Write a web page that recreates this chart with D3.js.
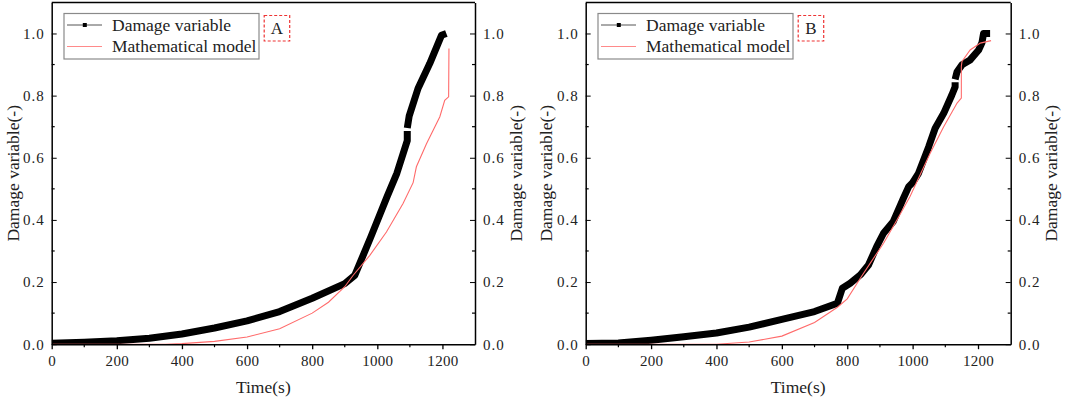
<!DOCTYPE html>
<html>
<head>
<meta charset="utf-8">
<script src="https://cdn.jsdelivr.net/npm/d3@7"></script>
<style>
  html, body { margin: 0; padding: 0; background: #fff; }
  svg { display: block; }
  text { font-family: "Liberation Serif", "Times New Roman", serif; fill: #222; }
</style>
</head>
<body>
<svg id="chart" width="1065" height="399"></svg>
<script>
// ---------- data ----------
const xTicks = [0, 200, 400, 600, 800, 1000, 1200];
const yTicks = [0, 0.2, 0.4, 0.6, 0.8, 1.0];
const xTitle = "Time(s)";
const yTitle = "Damage variable(-)";
const legendNames = ["Damage variable", "Mathematical model"];
const panelLabels = ["A", "B"];

// Panel A – damage variable (null = break in the marker chain)
const damageA_t = [0, 100, 200, 300, 400, 500, 600, 700, 800, 900, 931, 980, 1030, 1060, 1092, 1092, null, 1092, 1098, 1125, 1161, 1197, 1212];
const damageA_v = [0.003, 0.006, 0.011, 0.019, 0.033, 0.052, 0.075, 0.105, 0.148, 0.195, 0.222, 0.345, 0.475, 0.55, 0.655, 0.686, null, 0.696, 0.735, 0.823, 0.903, 0.994, 1.0];
// Panel A – mathematical model
const modelA_t = [0, 350, 400, 500, 600, 700, 800, 850, 900, 926, 977, 1028, 1079, 1110, 1120, 1151, 1192, 1207, 1219, 1220];
const modelA_v = [0, 0, 0.002, 0.009, 0.023, 0.05, 0.1, 0.135, 0.185, 0.222, 0.286, 0.361, 0.453, 0.52, 0.571, 0.645, 0.732, 0.785, 0.796, 0.952];

// Panel B – damage variable
const damageB_t = [0, 100, 200, 300, 400, 500, 600, 700, 770, 785, 809, 840, 865, 890, 911, 941, 972, 988, 1000, 1018, 1049, 1069, 1095, 1120, 1130, 1130, null, 1130, 1136, 1151, 1176, 1202, 1212, 1217, 1237];
const damageB_v = [0.002, 0.004, 0.013, 0.024, 0.036, 0.055, 0.08, 0.105, 0.132, 0.18, 0.196, 0.223, 0.255, 0.314, 0.357, 0.395, 0.47, 0.507, 0.52, 0.55, 0.635, 0.695, 0.743, 0.802, 0.828, 0.843, null, 0.852, 0.877, 0.899, 0.915, 0.947, 0.97, 1.0, 1.0];
// Panel B – mathematical model
const modelB_t = [0, 400, 500, 600, 700, 770, 800, 840, 870, 911, 952, 992, 1023, 1054, 1095, 1136, 1149, 1149, 1151, 1176, 1207, 1240];
const modelB_v = [0, 0, 0.007, 0.026, 0.07, 0.119, 0.146, 0.212, 0.26, 0.325, 0.40, 0.475, 0.545, 0.615, 0.70, 0.776, 0.792, 0.894, 0.91, 0.947, 0.969, 0.977];

// ---------- drawing ----------
const svg = d3.select("#chart");
const yTop = 2.4, yBot = 344.2;
const panels = [
  { x0: 51.7, x1: 475, label: panelLabels[0], dt: damageA_t, dv: damageA_v, mt: modelA_t, mv: modelA_v, leftTitleX: 13, rightTitleX: 516 },
  { x0: 585.7, x1: 1010.7, label: panelLabels[1], dt: damageB_t, dv: damageB_v, mt: modelB_t, mv: modelB_v, leftTitleX: 546, rightTitleX: 1051 }
];

const zip = (ts, vs) => ts.map((t, i) => (t === null ? null : [t, vs[i]]));
const fmt = d3.format(".1f");

panels.forEach(p => {
  const x = d3.scaleLinear([0, 1300], [p.x0, p.x1]);
  const y = d3.scaleLinear([0, 1.1], [yBot, yTop]);
  const g = svg.append("g");

  const cid = "clip" + p.label;
  svg.append("clipPath").attr("id", cid).append("rect")
    .attr("x", p.x0).attr("y", yTop).attr("width", p.x1 - p.x0).attr("height", yBot - yTop);

  const line = d3.line().defined(d => d !== null).x(d => x(d[0])).y(d => y(d[1]));

  // damage variable (thick marker chain)
  g.append("path").datum(zip(p.dt, p.dv))
    .attr("d", line).attr("fill", "none").attr("stroke", "#000")
    .attr("stroke-width", 7).attr("stroke-linejoin", "round").attr("stroke-linecap", "butt")
    .attr("clip-path", `url(#${cid})`);
  // model
  g.append("path").datum(zip(p.mt, p.mv))
    .attr("d", line).attr("fill", "none").attr("stroke", "#ff6b6b")
    .attr("stroke-width", 1.1).attr("clip-path", `url(#${cid})`);

  // bottom axis (outward ticks)
  const bx = g.append("g").attr("transform", `translate(0,${yBot})`)
    .call(d3.axisBottom(x).tickValues(xTicks).tickSize(5).tickSizeOuter(0).tickPadding(6).tickFormat(d3.format("d")));
  bx.selectAll("text").attr("font-size", 15).attr("fill", "#333").attr("letter-spacing", "0.3px");
  bx.select(".domain").attr("stroke-width", 1.5);
  bx.selectAll(".tick line").attr("stroke-width", 1.3);
  g.append("g").selectAll("line").data(d3.range(100, 1300, 200)).join("line")
    .attr("x1", d => x(d)).attr("x2", d => x(d)).attr("y1", yBot).attr("y2", yBot + 3)
    .attr("stroke", "#000").attr("stroke-width", 1.2);

  // left axis (inward ticks)
  const ly = g.append("g").attr("transform", `translate(${p.x0},0)`)
    .call(d3.axisLeft(y).tickValues(yTicks).tickSize(-5).tickSizeOuter(0).tickPadding(7).tickFormat(fmt));
  ly.selectAll("text").attr("font-size", 15).attr("fill", "#333").attr("letter-spacing", "1px");
  ly.select(".domain").attr("stroke-width", 1.5);
  // right axis
  const ry = g.append("g").attr("transform", `translate(${p.x1},0)`)
    .call(d3.axisRight(y).tickValues(yTicks).tickSize(-5).tickSizeOuter(0).tickPadding(8).tickFormat(fmt));
  ry.selectAll("text").attr("font-size", 15).attr("fill", "#333").attr("letter-spacing", "1px");
  ry.select(".domain").attr("stroke-width", 1.5);
  const minY = d3.range(0.1, 1.05, 0.2);
  g.append("g").selectAll("line").data(minY).join("line")
    .attr("x1", p.x0).attr("x2", p.x0 + 3).attr("y1", d => y(d)).attr("y2", d => y(d))
    .attr("stroke", "#000").attr("stroke-width", 1.2);
  g.append("g").selectAll("line").data(minY).join("line")
    .attr("x1", p.x1).attr("x2", p.x1 - 3).attr("y1", d => y(d)).attr("y2", d => y(d))
    .attr("stroke", "#000").attr("stroke-width", 1.2);
  g.append("line").attr("x1", p.x0).attr("x2", p.x1).attr("y1", yTop).attr("y2", yTop)
    .attr("stroke", "#000").attr("stroke-width", 1.5);

  // titles
  g.append("text").attr("x", (p.x0 + p.x1) / 2).attr("y", 393)
    .attr("text-anchor", "middle").attr("font-size", 17.5).text(xTitle);
  [p.leftTitleX, p.rightTitleX].forEach(tx => {
    g.append("text").attr("transform", `translate(${tx},${(yTop + yBot) / 2}) rotate(-90)`)
      .attr("text-anchor", "middle").attr("dy", "0.35em").attr("font-size", 17.5).text(yTitle);
  });

  // legend
  const lx = p.x0 + 12.3;
  g.append("rect").attr("x", lx).attr("y", 13.5).attr("width", 195).attr("height", 45.5)
    .attr("fill", "#fff").attr("stroke", "#8a8a8a").attr("stroke-width", 1.2);
  g.append("line").attr("x1", lx + 3).attr("x2", lx + 38).attr("y1", 25).attr("y2", 25)
    .attr("stroke", "#555").attr("stroke-width", 1);
  g.append("rect").attr("x", lx + 18.8).attr("y", 23).attr("width", 4).attr("height", 4).attr("fill", "#000");
  g.append("line").attr("x1", lx + 3).attr("x2", lx + 38).attr("y1", 46.5).attr("y2", 46.5)
    .attr("stroke", "#ff8a8a").attr("stroke-width", 1);
  g.append("text").attr("x", lx + 48).attr("y", 25).attr("dy", "0.33em").attr("font-size", 17.5).text(legendNames[0]);
  g.append("text").attr("x", lx + 48).attr("y", 46.5).attr("dy", "0.33em").attr("font-size", 17.5).text(legendNames[1]);

  // panel label box
  g.append("rect").attr("x", p.x0 + 212.5).attr("y", 15.5).attr("width", 25.5).attr("height", 25.5)
    .attr("fill", "none").attr("stroke", "#ee3333").attr("stroke-width", 1.2).attr("stroke-dasharray", "3,2");
  g.append("text").attr("x", p.x0 + 225.2).attr("y", 28.5).attr("dy", "0.35em")
    .attr("text-anchor", "middle").attr("font-size", 17).text(p.label);
});
</script>
</body>
</html>
